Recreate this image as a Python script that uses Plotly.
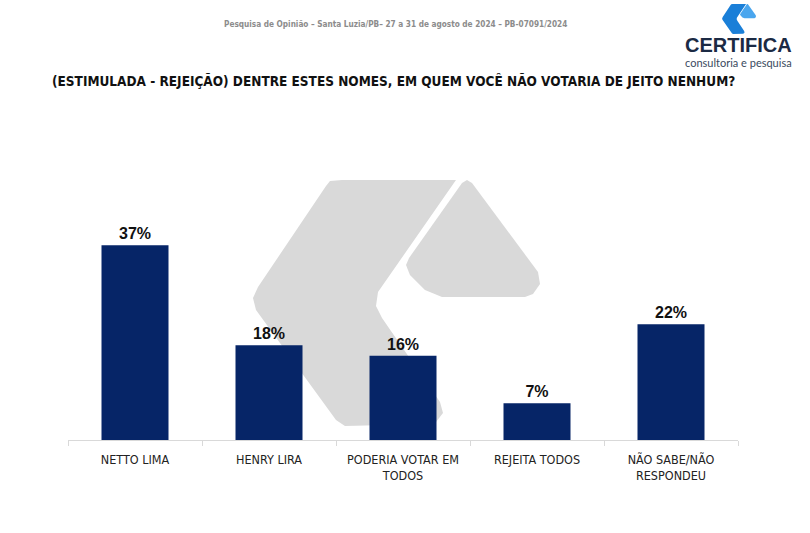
import plotly.graph_objects as go

categories = ["NETTO LIMA", "HENRY LIRA", "PODERIA VOTAR EM<br>TODOS", "REJEITA TODOS", "NÃO SABE/NÃO<br>RESPONDEU"]
values = [37, 18, 16, 7, 22]
labels = [f"<b>{v}%</b>" for v in values]

W, H = 810, 533
ML, MR, MT, MB = 68, 72, 140, 93
PW, PH = W - ML - MR, H - MT - MB

def px2paper(x, y):
    return (x - ML) / PW, (H - MB - y) / PH

def path_from(points):
    segs = []
    for i, (x, y) in enumerate(points):
        px, py = px2paper(x, y)
        segs.append(("M" if i == 0 else "L") + f" {px:.4f},{py:.4f}")
    return " ".join(segs) + " Z"

# watermark outline (pixel coords in the page)
wm_left = [(330, 181), (342, 180), (456, 180), (378, 292), (376, 306), (382, 318),
           (440, 402), (443, 413), (436, 422), (428, 424), (345, 426), (336, 420),
           (256, 310), (253, 298), (258, 287), (326, 186)]
wm_right = [(462, 183), (467, 180), (472, 183), (538, 272), (540, 284), (533, 294),
            (525, 297), (442, 297), (425, 290), (410, 275), (406, 265), (409, 258)]

def scale_pts(pts, sx, sy, ox, oy):
    return [(ox + (x - 252) * sx, oy + (y - 180) * sy) for x, y in pts]

logo_left = scale_pts(wm_left, 0.118, 0.122, 722, 4)
logo_right = scale_pts(wm_right, 0.118, 0.122, 722, 4)

fig = go.Figure(go.Bar(
    x=categories, y=values, text=labels, textposition="outside",
    marker=dict(color="#062567", line=dict(width=0)),
    textfont=dict(family="Liberation Sans, Arial", size=16, color="#111111"),
    cliponaxis=False, width=0.5,
))

shapes = []
for pts, col in [(wm_left, "#d9d9d9"), (wm_right, "#d9d9d9")]:
    shapes.append(dict(type="path", xref="paper", yref="paper", path=path_from(pts),
                       fillcolor=col, line=dict(width=0), layer="below"))
for pts, col in [(logo_left, "#1a7fd8"), (logo_right, "#4aa6ee")]:
    shapes.append(dict(type="path", xref="paper", yref="paper", path=path_from(pts),
                       fillcolor=col, line=dict(width=0), layer="above"))

cond = "DejaVu Sans Condensed, Liberation Sans Narrow, sans-serif"

annotations = [
    dict(text="<b>Pesquisa de Opinião – Santa Luzia/PB– 27 a 31 de agosto de 2024 – PB-07091/2024</b>",
         x=395, y=24),
    dict(text="<b>(ESTIMULADA - REJEIÇÃO) DENTRE ESTES NOMES, EM QUEM VOCÊ NÃO VOTARIA DE JEITO NENHUM?</b>",
         x=393, y=81),
    dict(text="<b>CERTIFICA</b>", x=738, y=45),
    dict(text="consultoria e pesquisa", x=738, y=62),
]
styles = [
    dict(family=cond, size=8.2, color="#8c8c8c"),
    dict(family=cond, size=13.5, color="#111111"),
    dict(family="Liberation Sans, Arial", size=20, color="#1b2a44"),
    dict(family="Lato, Liberation Sans", size=11, color="#3a4a5e"),
]
ann = []
for a, f in zip(annotations, styles):
    px, py = px2paper(a["x"], a["y"])
    ann.append(dict(text=a["text"], x=px, y=py, xref="paper", yref="paper",
                    showarrow=False, xanchor="center", yanchor="middle", font=f))

fig.update_layout(
    width=W, height=H, margin=dict(l=ML, r=MR, t=MT, b=MB, autoexpand=False),
    paper_bgcolor="white", plot_bgcolor="white",
    showlegend=False, shapes=shapes, annotations=ann,
    xaxis=dict(showline=True, linecolor="#d9d9d9", linewidth=1, ticks="outside",
               tickson="boundaries", ticklen=5, tickcolor="#d9d9d9", tickangle=0,
               automargin=False, ticklabelstandoff=8,
               tickfont=dict(family=cond, size=12.5, color="#222222"), showgrid=False),
    yaxis=dict(range=[0, 57], visible=False, showgrid=False, automargin=False),
)

fig.write_html("out.html")
